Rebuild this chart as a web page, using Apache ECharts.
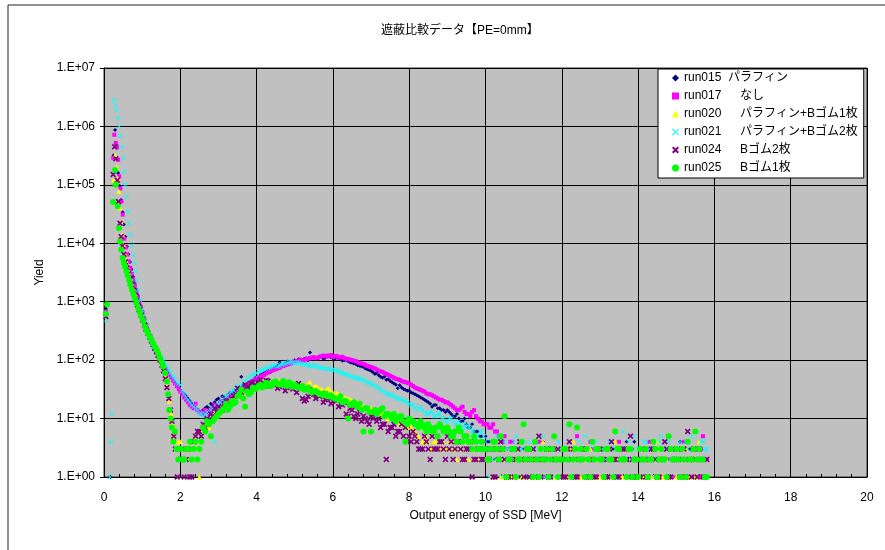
<!DOCTYPE html>
<html>
<head>
<meta charset="utf-8">
<title>遮蔽比較データ</title>
<script src="https://cdn.jsdelivr.net/npm/echarts@6.0.0/dist/echarts.min.js"></script>
<style>
  html, body { margin: 0; padding: 0; background: #fff; }
  #chart { width: 885px; height: 550px; }
</style>
</head>
<body>
<div id="chart"></div>
<script>
// energy bins shared by every run above 2 MeV
const energyGrid = [
  2.0, 2.1, 2.2, 2.3, 2.4, 2.5, 2.6, 2.7, 2.8, 2.9,
  3.0, 3.1, 3.2, 3.3, 3.4, 3.5, 3.6, 3.7, 3.8, 3.9,
  4.0, 4.1, 4.2, 4.3, 4.4, 4.5, 4.6, 4.7, 4.8, 4.9,
  5.0, 5.1, 5.2, 5.3, 5.4, 5.5, 5.6, 5.7, 5.8, 5.9,
  6.0, 6.1, 6.2, 6.3, 6.4, 6.5, 6.6, 6.7, 6.8, 6.9,
  7.0, 7.1, 7.2, 7.3, 7.4, 7.5, 7.6, 7.7, 7.8, 7.9,
  8.0, 8.1, 8.2, 8.3, 8.4, 8.5, 8.6, 8.7, 8.8, 8.9,
  9.0, 9.1, 9.2, 9.3, 9.4, 9.5, 9.6, 9.7, 9.8, 9.9,
  10.0, 10.1, 10.2, 10.3, 10.4, 10.5, 10.6, 10.7, 10.8, 10.9,
  11.0, 11.1, 11.2, 11.3, 11.4, 11.5, 11.6, 11.7, 11.8, 11.9,
  12.0, 12.1, 12.2, 12.3, 12.4, 12.5, 12.6, 12.7, 12.8, 12.9,
  13.0, 13.1, 13.2, 13.3, 13.4, 13.5, 13.6, 13.7, 13.8, 13.9,
  14.0, 14.1, 14.2, 14.3, 14.4, 14.5, 14.6, 14.7, 14.8, 14.9,
  15.0, 15.1, 15.2, 15.3, 15.4, 15.5, 15.6, 15.7, 15.8
]
// the in-between bins
const energyHalf = [
  2.05, 2.15, 2.25, 2.35, 2.45, 2.55, 2.65, 2.75, 2.85, 2.95,
  3.05, 3.15, 3.25, 3.35, 3.45, 3.55, 3.65, 3.75, 3.85, 3.95,
  4.05, 4.15, 4.25, 4.35, 4.45, 4.55, 4.65, 4.75, 4.85, 4.95,
  5.05, 5.15, 5.25, 5.35, 5.45, 5.55, 5.65, 5.75, 5.85, 5.95,
  6.05, 6.15, 6.25, 6.35, 6.45, 6.55, 6.65, 6.75, 6.85, 6.95,
  7.05, 7.15, 7.25, 7.35, 7.45, 7.55, 7.65, 7.75, 7.85, 7.95,
  8.05, 8.15, 8.25, 8.35, 8.45, 8.55, 8.65, 8.75, 8.85, 8.95,
  9.05, 9.15, 9.25, 9.35, 9.45, 9.55, 9.65, 9.75, 9.85, 9.95,
  10.05, 10.15, 10.25, 10.35, 10.45, 10.55, 10.65, 10.75, 10.85, 10.95,
  11.05, 11.15, 11.25, 11.35, 11.45, 11.55, 11.65, 11.75, 11.85, 11.95,
  12.05, 12.15, 12.25, 12.35, 12.45, 12.55, 12.65, 12.75, 12.85, 12.95,
  13.05, 13.15, 13.25, 13.35, 13.45, 13.55, 13.65, 13.75, 13.85, 13.95,
  14.05, 14.15, 14.25, 14.35, 14.45, 14.55, 14.65, 14.75, 14.85, 14.95,
  15.05, 15.15, 15.25, 15.35, 15.45, 15.55, 15.65, 15.75
]

// low energy part (peak + fall), [MeV, yield]
const run015Peak = [[0.05, 760], [0.17, 1], [0.25, 3.2e5], [0.29, 8.7e5], [0.33, 4.8e5], [0.37, 1.6e5], [0.41, 9.6e4], [0.45, 5.5e4], [0.49, 3.4e4], [0.52, 2.1e4], [0.56, 1.3e4], [0.6, 8.8e3], [0.64, 6.5e3], [0.68, 4.8e3], [0.72, 3.6e3], [0.76, 2.7e3], [0.8, 2.1e3], [0.84, 1.65e3], [0.88, 1.3e3], [0.92, 1.05e3], [0.96, 850], [1.0, 690], [1.05, 540], [1.1, 420], [1.15, 330], [1.2, 260], [1.25, 205], [1.3, 170], [1.35, 145], [1.4, 125], [1.45, 110], [1.5, 98], [1.55, 86], [1.6, 76], [1.65, 67], [1.7, 60], [1.75, 53], [1.8, 47], [1.85, 42], [1.9, 38], [1.95, 34]]
const run017Peak = [[0.05, 680], [0.24, 2.9e5], [0.27, 7.2e5], [0.31, 5.2e5], [0.34, 4.4e5], [0.37, 2.7e5], [0.4, 1.4e5], [0.43, 8.7e4], [0.46, 5.2e4], [0.49, 3.1e4], [0.53, 1.2e4], [0.57, 8.5e3], [0.61, 6.4e3], [0.65, 4.9e3], [0.69, 3.8e3], [0.73, 3.0e3], [0.77, 2.4e3], [0.81, 1.9e3], [0.85, 1.5e3], [0.89, 1.2e3], [0.93, 980], [0.97, 800], [1.01, 650], [1.06, 500], [1.11, 390], [1.16, 300], [1.21, 235], [1.26, 185], [1.31, 155], [1.36, 135], [1.41, 118], [1.46, 104], [1.51, 92], [1.56, 82], [1.61, 72], [1.66, 64], [1.71, 57], [1.76, 50], [1.81, 45], [1.86, 40], [1.91, 36], [1.96, 32]]
const run020Peak = [[0.05, 600], [0.25, 1.2e5], [0.29, 3.2e5], [0.33, 2.0e5], [0.36, 1.3e5], [0.39, 7.8e4], [0.42, 4.0e4], [0.45, 2.3e4], [0.48, 1.4e4], [0.51, 9.4e3], [0.55, 6.6e3], [0.58, 5.0e3], [0.62, 3.9e3], [0.66, 3.1e3], [0.7, 2.5e3], [0.74, 2.0e3], [0.78, 1.65e3], [0.82, 1.35e3], [0.86, 1.1e3], [0.9, 900], [0.94, 740], [0.98, 610], [1.03, 500], [1.07, 410], [1.11, 350], [1.16, 300], [1.2, 260], [1.25, 225], [1.29, 195], [1.34, 170], [1.38, 150], [1.43, 128], [1.47, 108], [1.52, 90], [1.56, 74], [1.61, 55], [1.66, 38], [1.71, 20], [1.76, 12], [1.8, 8], [1.84, 5], [1.89, 3], [1.93, 4], [1.98, 2]]
const run021Peak = [[0.05, 490], [0.16, 1], [0.18, 4], [0.2, 12], [0.27, 2.8e6], [0.3, 2.3e6], [0.33, 1.9e6], [0.37, 1.4e6], [0.4, 1.0e6], [0.43, 6.9e5], [0.46, 4.5e5], [0.5, 2.9e5], [0.53, 1.7e5], [0.56, 1.0e5], [0.59, 6.2e4], [0.63, 3.5e4], [0.66, 2.2e4], [0.69, 1.4e4], [0.73, 9.1e3], [0.77, 6.3e3], [0.8, 4.6e3], [0.83, 3.3e3], [0.86, 2.3e3], [0.9, 1.6e3], [0.95, 1.07e3], [0.99, 720], [1.04, 560], [1.08, 440], [1.12, 340], [1.16, 260], [1.21, 210], [1.25, 185], [1.29, 170], [1.33, 155], [1.38, 140], [1.42, 130], [1.47, 118], [1.51, 108], [1.56, 100], [1.6, 88], [1.65, 78], [1.69, 68], [1.74, 60], [1.78, 54], [1.82, 50], [1.86, 46], [1.91, 42], [1.95, 40]]
const run024Peak = [[0.05, 560], [0.24, 1.5e5], [0.28, 4.5e5], [0.31, 2.8e5], [0.35, 1.2e5], [0.38, 5.2e4], [0.42, 2.2e4], [0.45, 1.3e4], [0.48, 9.0e3], [0.52, 6.5e3], [0.56, 4.8e3], [0.6, 3.8e3], [0.64, 3.0e3], [0.68, 2.4e3], [0.72, 1.95e3], [0.76, 1.6e3], [0.8, 1.3e3], [0.84, 1.07e3], [0.88, 880], [0.92, 720], [0.97, 590], [1.01, 490], [1.06, 400], [1.1, 340], [1.15, 290], [1.2, 250], [1.24, 215], [1.29, 185], [1.33, 160], [1.38, 140], [1.42, 120], [1.47, 100], [1.52, 82], [1.56, 66], [1.61, 48], [1.65, 34], [1.7, 22], [1.74, 14], [1.78, 9], [1.83, 5], [1.87, 3], [1.92, 1], [1.96, 3]]
const run025Peak = [[0.05, 620], [0.08, 900], [0.24, 5.1e4], [0.29, 1.8e5], [0.31, 1.0e5], [0.36, 4.3e4], [0.39, 1.8e4], [0.42, 1.07e4], [0.45, 7.8e3], [0.49, 5.6e3], [0.52, 4.6e3], [0.55, 4.0e3], [0.59, 3.3e3], [0.62, 2.8e3], [0.66, 2.3e3], [0.69, 1.95e3], [0.73, 1.6e3], [0.77, 1.35e3], [0.81, 1.12e3], [0.85, 940], [0.9, 780], [0.94, 650], [0.99, 540], [1.03, 460], [1.08, 370], [1.12, 320], [1.16, 280], [1.21, 245], [1.25, 220], [1.29, 190], [1.33, 170], [1.38, 150], [1.42, 130], [1.46, 112], [1.51, 93], [1.55, 78], [1.6, 60], [1.65, 43], [1.68, 26], [1.71, 14], [1.75, 10], [1.78, 7], [1.82, 4], [1.86, 6], [1.9, 3], [1.95, 2]]

// yields on energyGrid
const run015Grid = [
  31, 26, 22, 18, 15, 13, 14, 16, 18, 19,
  22, 24, 21, 27, 29, 33, 52, 34, 42, 45,
  52, 56, 60, 66, 70, 76, 92, 84, 95, 90,
  100, 104, 98, 108, 135, 112, 105, 116, 110, 118,
  108, 112, 104, 100, 96, 90, 86, 80, 76, 70,
  66, 58, 55, 50, 46, 44, 40, 33, 34, 31,
  30, 27, 25, 23, 21, 19, 16, 17, 15, 14,
  14, 12, 11, 10, 9, 8, 7, 6, 6, 5,
  5, 4, 3, 2, 3, 3, 1, 2, 2, 1,
  3, 3, 2, 1, 2, 4, 1, 2, 3, 1,
  2, 1, 3, 2, 1, 2, 1, 3, 2, 1,
  2, 1, 3, 2, 1, 2, 1, 4, 2, 4,
  1, 2, 3, 1, 2, 1, 2, 1, 3, 2,
  1, 4, 2, 1, 2, 1, 2, 1, 1
]
const run017Grid = [
  29, 23, 19, 16, 18, 13, 12, 13, 14, 17,
  17, 20, 19, 23, 26, 28, 32, 36, 40, 43,
  48, 52, 56, 62, 66, 70, 74, 80, 84, 88,
  94, 98, 100, 104, 108, 112, 110, 116, 118, 120,
  114, 118, 112, 108, 104, 100, 96, 90, 86, 80,
  76, 72, 66, 63, 58, 54, 50, 47, 44, 42,
  40, 36, 33, 31, 29, 26, 25, 23, 21, 20,
  19, 17, 15, 14, 16, 12, 11, 14, 10, 9,
  8, 7, 8, 6, 5, 5, 3, 4, 2, 3,
  2, 3, 1, 2, 4, 1, 2, 3, 1, 2,
  1, 2, 3, 1, 5, 1, 2, 1, 3, 2,
  1, 3, 2, 1, 2, 4, 1, 2, 1, 2,
  1, 3, 2, 4, 1, 2, 1, 3, 2, 1,
  2, 1, 4, 1, 2, 3, 1, 5, 2
]
const run020Grid = [
  4, 3, 3, 4, 5, 1, 7, 8, 9, 12,
  13, 15, 17, 20, 22, 26, 27, 30, 33, 35,
  37, 40, 38, 42, 44, 40, 43, 39, 41, 38,
  40, 36, 38, 35, 42, 35, 34, 32, 30, 33,
  28, 27, 25, 23, 22, 20, 19, 17, 16, 15,
  15, 14, 13, 12, 11, 10, 10, 9, 9, 8,
  8, 6, 5, 7, 4, 4, 3, 4, 3, 4,
  3, 4, 3, 4, 2, 3, 4, 3, 2, 3,
  2, 3, 4, 2, 1, 3, 2, 1, 2, 3,
  1, 2, 3, 2, 1, 4, 2, 3, 1, 2,
  3, 1, 2, 4, 2, 1, 3, 2, 1, 2,
  1, 2, 3, 1, 4, 2, 1, 3, 2, 1,
  2, 3, 1, 2, 1, 4, 2, 1, 3, 2,
  1, 2, 3, 1, 2, 1, 4, 2, 1
]
const run021Grid = [
  38, 26, 21, 17, 15, 12, 11, 13, 14, 4,
  18, 20, 24, 27, 30, 35, 38, 44, 50, 58,
  60, 66, 70, 74, 78, 82, 80, 86, 90, 94,
  88, 92, 86, 84, 80, 82, 76, 74, 72, 70,
  70, 66, 62, 58, 56, 52, 50, 48, 46, 42,
  40, 36, 33, 30, 27, 25, 24, 22, 21, 20,
  18, 17, 14, 16, 13, 12, 13, 11, 12, 10,
  9, 10, 8, 9, 7, 8, 7, 6, 5, 6,
  4, 1, 3, 5, 2, 4, 3, 2, 5, 3,
  2, 4, 1, 3, 2, 5, 3, 2, 1, 4,
  3, 2, 4, 1, 3, 2, 5, 3, 2, 4,
  2, 3, 1, 4, 3, 2, 6, 3, 2, 5,
  3, 2, 4, 3, 1, 2, 5, 3, 4, 2,
  3, 4, 2, 3, 5, 2, 3, 4, 3
]
const run024Grid = [
  2, 1, 3, 1, 5, 6, 8, 10, 12, 15,
  16, 14, 20, 18, 24, 33, 28, 38, 34, 42,
  36, 46, 40, 44, 38, 42, 35, 40, 34, 37,
  35, 40, 22, 21, 31, 26, 25, 27, 21, 23,
  20, 22, 18, 19, 11, 14, 10, 13, 11, 9,
  11, 12, 10, 8, 2, 7, 8, 6, 8, 7,
  5, 6, 4, 3, 5, 3, 5, 3, 4, 3,
  5, 4, 3, 4, 2, 3, 4, 2, 3, 2,
  3, 2, 1, 3, 4, 2, 1, 3, 2, 4,
  1, 3, 2, 1, 5, 2, 3, 1, 2, 3,
  2, 1, 4, 3, 1, 2, 3, 1, 2, 1,
  3, 2, 1, 4, 2, 1, 3, 2, 5, 1,
  2, 3, 1, 2, 3, 1, 2, 4, 1, 3,
  2, 1, 3, 6, 1, 2, 3, 1, 2
]
const run025Grid = [
  3, 2, 3, 2, 4, 3, 7, 9, 5, 10,
  12, 14, 18, 16, 18, 24, 31, 16, 26, 34,
  33, 38, 35, 40, 37, 43, 38, 44, 36, 40,
  38, 34, 36, 32, 30, 29, 28, 26, 27, 24,
  23, 22, 24, 20, 10, 18, 17, 18, 6, 15,
  6, 14, 13, 15, 12, 11, 12, 10, 11, 4,
  10, 9, 8, 9, 7, 8, 6, 7, 8, 6,
  7, 5, 6, 7, 4, 5, 4, 5, 3, 4,
  3, 2, 4, 3, 5, 11, 2, 3, 1, 2,
  8, 3, 2, 4, 1, 2, 3, 2, 5, 1,
  2, 3, 8, 2, 7, 3, 1, 2, 4, 3,
  2, 1, 3, 2, 6, 3, 2, 1, 3, 2,
  1, 2, 3, 2, 4, 1, 3, 2, 5, 2,
  3, 1, 2, 4, 2, 6, 3, 2, 1
]

// yields on energyHalf
const run015Half = [
  28, 24, 20, 16, 14, 12, 15, 15, 17, 21,
  20, 23, 25, 26, 31, 30, 37, 39, 40, 48,
  50, 58, 63, 62, 72, 80, 78, 88, 86, 96,
  97, 102, 106, 100, 110, 108, 114, 106, 120, 112,
  106, 107, 98, 102, 92, 88, 82, 78, 72, 68,
  62, 60, 52, 52, 47, 42, 38, 37, 32, 30,
  28, 26, 24, 22, 20, 18, 17, 15, 14, 13,
  13, 11, 12, 9, 10, 7, 8, 6, 5, 4,
  4, 3, 2, 3, 1, 2, 3, 1, 2, 2,
  1, 2, 3, 1, 2, 1, 3, 2, 1, 2,
  3, 2, 1, 2, 1, 3, 2, 1, 2, 1,
  2, 1, 2, 3, 1, 2, 1, 2, 3, 1,
  2, 1, 3, 2, 1, 2, 1, 3, 1, 2,
  1, 2, 1, 3, 2, 1, 2, 1
]
const run017Half = [
  26, 21, 17, 15, 14, 12, 14, 12, 15, 16,
  19, 18, 22, 24, 27, 30, 34, 38, 41, 46,
  50, 54, 59, 64, 68, 72, 78, 82, 86, 92,
  96, 102, 98, 106, 110, 108, 114, 120, 115, 122,
  116, 110, 114, 106, 102, 98, 92, 88, 83, 78,
  74, 69, 64, 60, 56, 52, 48, 46, 43, 41,
  38, 34, 32, 30, 27, 26, 24, 22, 21, 19,
  18, 16, 14, 15, 13, 12, 13, 11, 9, 8,
  8, 7, 6, 5, 4, 3, 4, 2, 3, 2,
  2, 1, 3, 2, 1, 2, 3, 1, 2, 1,
  2, 1, 3, 2, 1, 2, 1, 4, 2, 1,
  2, 1, 3, 1, 2, 1, 2, 3, 1, 2,
  1, 2, 3, 1, 2, 1, 2, 3, 1, 2,
  3, 1, 2, 1, 2, 1, 3, 2
]
const run020Half = [
  3, 2, 4, 3, 4, 6, 8, 7, 10, 11,
  14, 16, 18, 19, 24, 25, 29, 31, 34, 36,
  38, 36, 41, 40, 42, 45, 38, 42, 40, 37,
  38, 37, 36, 40, 33, 36, 31, 29, 32, 28,
  26, 26, 24, 22, 21, 19, 18, 16, 15, 14,
  14, 13, 12, 11, 10, 11, 9, 8, 9, 7,
  7, 6, 5, 4, 5, 3, 4, 3, 4, 3,
  4, 3, 2, 3, 4, 2, 3, 2, 3, 2,
  2, 1, 3, 2, 1, 2, 3, 1, 2, 1,
  3, 1, 2, 1, 2, 3, 1, 2, 1, 3,
  2, 1, 3, 1, 2, 1, 2, 3, 1, 2,
  1, 3, 2, 1, 2, 1, 3, 1, 2, 1,
  3, 1, 2, 1, 2, 3, 1, 2, 1, 2,
  2, 1, 3, 1, 2, 1, 2, 1
]
const run021Half = [
  30, 23, 19, 16, 14, 12, 12, 11, 15, 16,
  19, 22, 25, 29, 32, 36, 41, 47, 53, 56,
  63, 68, 72, 76, 80, 78, 84, 88, 92, 90,
  90, 88, 85, 82, 78, 80, 75, 73, 71, 68,
  68, 64, 60, 57, 54, 51, 49, 47, 44, 41,
  38, 35, 31, 28, 26, 25, 23, 22, 20, 19,
  17, 15, 15, 14, 12, 13, 11, 12, 10, 9,
  10, 9, 8, 8, 7, 7, 6, 5, 6, 5,
  3, 4, 2, 3, 1, 3, 2, 4, 2, 3,
  3, 2, 4, 2, 3, 1, 2, 3, 2, 3,
  2, 3, 1, 2, 4, 3, 2, 1, 3, 2,
  3, 2, 4, 2, 1, 3, 2, 4, 3, 2,
  2, 4, 3, 2, 3, 4, 2, 3, 2, 3,
  2, 3, 4, 2, 3, 2, 4, 3
]
const run024Half = [
  3, 2, 1, 4, 6, 5, 7, 9, 11, 13,
  15, 18, 17, 22, 26, 25, 30, 34, 40, 37,
  42, 38, 45, 36, 41, 33, 38, 30, 36, 32,
  28, 33, 20, 24, 27, 22, 24, 19, 22, 18,
  21, 16, 17, 12, 15, 11, 12, 9, 10, 8,
  10, 9, 7, 8, 6, 7, 5, 6, 5, 4,
  4, 5, 3, 3, 4, 2, 3, 3, 4, 2,
  3, 2, 4, 3, 2, 3, 1, 2, 3, 2,
  2, 3, 1, 2, 3, 1, 2, 1, 3, 2,
  2, 1, 3, 2, 1, 2, 1, 3, 2, 1,
  1, 3, 2, 1, 2, 3, 1, 2, 1, 3,
  2, 1, 3, 2, 1, 2, 3, 1, 2, 1,
  1, 2, 1, 3, 2, 1, 2, 3, 1, 2,
  3, 2, 1, 2, 3, 1, 2, 1
]
const run025Half = [
  2, 3, 4, 3, 2, 4, 6, 8, 9, 11,
  13, 15, 14, 20, 19, 26, 22, 29, 28, 32,
  36, 34, 41, 36, 42, 39, 40, 37, 42, 35,
  36, 33, 31, 34, 28, 30, 26, 25, 24, 25,
  22, 21, 19, 20, 17, 19, 16, 14, 15, 13,
  13, 12, 14, 11, 12, 10, 9, 11, 9, 8,
  9, 8, 7, 8, 6, 7, 6, 5, 7, 6,
  6, 5, 4, 6, 5, 4, 3, 4, 3, 3,
  2, 3, 4, 2, 3, 1, 2, 3, 2, 4,
  2, 3, 1, 2, 3, 2, 1, 3, 2, 2,
  3, 2, 1, 3, 2, 2, 3, 1, 2, 3,
  2, 3, 2, 1, 3, 2, 2, 3, 1, 2,
  3, 2, 1, 2, 3, 2, 2, 1, 3, 2,
  2, 3, 1, 2, 3, 2, 2, 1
]

const runNames = [
  'run015  パラフィン',
  'run017　  なし',
  'run020　  パラフィン+Bゴム1枚',
  'run021　  パラフィン+Bゴム2枚',
  'run024　  Bゴム2枚',
  'run025　  Bゴム1枚'
]
const yTickLabels = ['1.E+00', '1.E+01', '1.E+02', '1.E+03', '1.E+04', '1.E+05', '1.E+06', '1.E+07']

const runColors = ['#000080', '#FF00FF', '#FFFF00', '#00FFFF', '#800080', '#00FF00']
const crossThin = 'path://M0,1L1,0L5,4L9,0L10,1L6,5L10,9L9,10L5,6L1,10L0,9L4,5Z'
const crossBold = 'path://M0,2L2,0L5,3L8,0L10,2L7,5L10,8L8,10L5,7L2,10L0,8L3,5Z'
const runSymbols = ['diamond', 'rect', 'triangle', crossThin, crossBold, 'circle']
const runSizes = [4, 4, 5, 5, 6, 6]

const toPoints = (peak, gridVals, halfVals) => {
  const pts = peak.slice()
  gridVals.forEach((v, i) => {
    if (v !== null) pts.push([energyGrid[i], v])
    if (i < halfVals.length && halfVals[i] !== null) pts.push([energyHalf[i], halfVals[i]])
  })
  return pts
}

const runData = [
  toPoints(run015Peak, run015Grid, run015Half),
  toPoints(run017Peak, run017Grid, run017Half),
  toPoints(run020Peak, run020Grid, run020Half),
  toPoints(run021Peak, run021Grid, run021Half),
  toPoints(run024Peak, run024Grid, run024Half),
  toPoints(run025Peak, run025Grid, run025Half)
]

const baseFont = "'Liberation Sans', 'Noto Sans CJK JP', sans-serif"

const chart = echarts.init(document.getElementById('chart'), null, { renderer: 'canvas' })

const option = {
  backgroundColor: '#ffffff',
  animation: false,
  textStyle: { fontFamily: baseFont, color: '#000' },
  title: {
    text: '遮蔽比較データ【PE=0mm】',
    left: 376,
    top: 20,
    textStyle: { fontSize: 12, fontWeight: 'normal', color: '#000', fontFamily: baseFont }
  },
  legend: {
    orient: 'vertical',
    left: 658,
    top: 69,
    padding: [3, 6, 4, 14],
    itemGap: 6,
    itemWidth: 7,
    itemHeight: 7,
    backgroundColor: '#ffffff',
    borderColor: '#000',
    borderWidth: 1,
    borderRadius: 0,
    textStyle: { fontSize: 12, lineHeight: 12, color: '#000', fontFamily: baseFont },
    data: runNames
  },
  graphic: [{
    type: 'rect',
    shape: { x: 8, y: 5, width: 900, height: 600 },
    style: { fill: 'none', stroke: '#222', lineWidth: 1 },
    silent: true
  }],
  grid: {
    left: 104,
    top: 68,
    right: 18,
    bottom: 73,
    show: true,
    backgroundColor: '#C0C0C0',
    borderColor: '#333',
    borderWidth: 1
  },
  xAxis: {
    type: 'value',
    min: 0,
    max: 20,
    interval: 2,
    name: 'Output energy of SSD [MeV]',
    nameLocation: 'middle',
    nameGap: 33,
    nameTextStyle: { fontSize: 12, color: '#000' },
    axisLine: { show: true, lineStyle: { color: '#000', width: 1 } },
    axisTick: { show: true, inside: true, length: 4, lineStyle: { color: '#000' } },
    minorTick: { show: true, splitNumber: 5, length: 3, lineStyle: { color: '#000' } },
    axisLabel: { fontSize: 12, color: '#000', margin: 15 },
    splitLine: { show: true, lineStyle: { color: '#000', width: 1 } }
  },
  yAxis: {
    type: 'log',
    logBase: 10,
    min: 1,
    max: 1e7,
    name: 'Yield',
    nameLocation: 'middle',
    nameGap: 51,
    nameRotate: 90,
    nameTextStyle: { fontSize: 12, color: '#000' },
    axisLine: { show: true, lineStyle: { color: '#000', width: 1 } },
    axisTick: { show: true, length: 4, lineStyle: { color: '#000' } },
    axisLabel: {
      fontSize: 12,
      color: '#000',
      margin: 9,
      formatter: (value) => yTickLabels[Math.round(Math.log10(value))] || ''
    },
    splitLine: { show: true, lineStyle: { color: '#000', width: 1 } }
  },
  series: runNames.map((name, i) => ({
    name: name,
    type: 'scatter',
    symbol: runSymbols[i],
    symbolSize: runSizes[i],
    clip: false,
    itemStyle: { color: runColors[i], opacity: 1 },
    data: runData[i]
  }))
}

chart.setOption(option)
</script>
</body>
</html>
